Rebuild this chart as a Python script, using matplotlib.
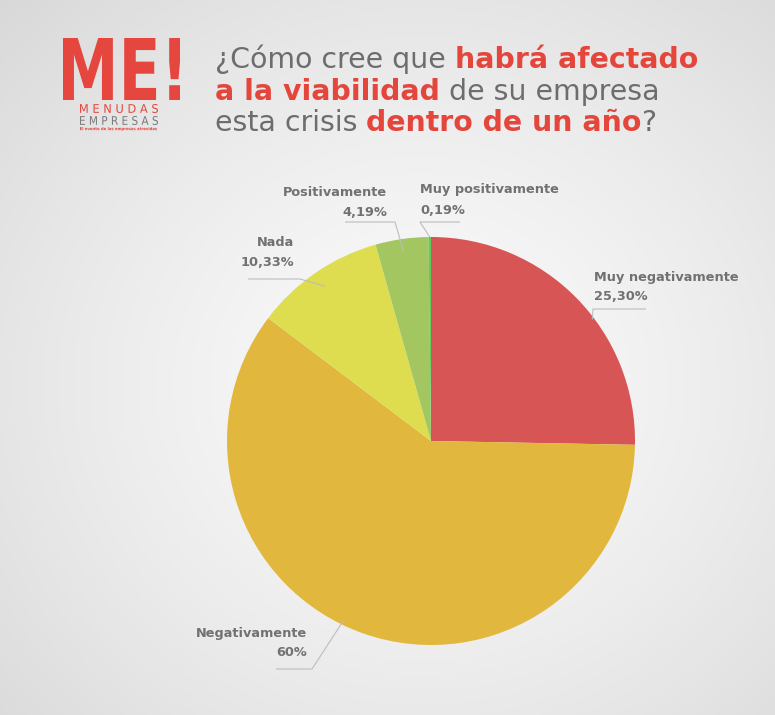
import numpy as np
import matplotlib
matplotlib.use("Agg")
import matplotlib.pyplot as plt
from matplotlib.textpath import TextPath
from matplotlib.patches import PathPatch
from matplotlib.font_manager import FontProperties
from matplotlib.transforms import Affine2D

# ---- data ----
categories = ["Muy negativamente", "Negativamente", "Nada", "Positivamente", "Muy positivamente"]
values = [25.30, 60.0, 10.33, 4.19, 0.19]
value_labels = ["25,30%", "60%", "10,33%", "4,19%", "0,19%"]
colors = ["#D85555", "#E2B73D", "#DEDD4F", "#A3C660", "#5CCB5A"]

title_lines = [
    [("¿Cómo cree que ", "g"), ("habrá afectado", "r")],
    [("a la viabilidad", "r"), (" de su empresa", "g")],
    [("esta crisis ", "g"), ("dentro de un año", "r"), ("?", "g")],
]

W, H = 775, 715
fig = plt.figure(figsize=(W / 100, H / 100), dpi=100)
ax = fig.add_axes([0, 0, 1, 1])
ax.set_xlim(0, W)
ax.set_ylim(0, H)
ax.set_aspect("equal")
ax.axis("off")

# background radial gradient
yy, xx = np.mgrid[0:H, 0:W]
d = np.sqrt(((xx - 420) / 520.0) ** 2 + ((yy - 330) / 480.0) ** 2)
g = np.clip(0.98 - 0.11 * d ** 1.4, 0.84, 0.98)
bg = np.dstack([g, g, g])
ax.imshow(bg, extent=[0, W, 0, H], origin="lower", zorder=0, interpolation="bilinear")

GRAY = "#6D6D6D"
RED = "#E4463C"
LBL = "#717171"

# ---- pie ----
cx, cy, R = 431, H - 441, 204
wedges, _ = ax.pie(values, colors=colors, startangle=90, counterclock=False,
                   center=(cx, cy), radius=R, frame=True,
                   wedgeprops=dict(linewidth=0))
for w in wedges:
    w.set_zorder(2)
ax.set_xlim(0, W)
ax.set_ylim(0, H)
ax.axis("off")

# ---- labels with leader lines ----
layout = {
    "Muy negativamente": (594, 277, "left", 646, 593, 309, 0.99),
    "Negativamente": (307, 633, "right", 276, 312, 669, 0.98),
    "Nada": (294, 242, "right", 248, 300, 279, 0.92),
    "Positivamente": (387, 193, "right", 345, 395, 222, 0.94),
    "Muy positivamente": (420, 190, "left", 460, 420, 222, 1.0),
}
cum = np.cumsum([0] + values)
tot = sum(values)
anchor_ang = {"Muy negativamente": 37, "Negativamente": 244}
for i, cat in enumerate(categories):
    tx, ty, ha, x0, x1, ly, rf = layout[cat]
    mid = 90 - 360 * (cum[i] + values[i] / 2) / tot
    mid = anchor_ang.get(cat, mid)
    ax_ = cx + R * rf * np.cos(np.radians(mid))
    ay_ = cy + R * rf * np.sin(np.radians(mid))
    ax.plot([x0, x1, ax_], [H - ly, H - ly, ay_], color="#BDBDBD", lw=0.8, zorder=3,
            solid_capstyle="butt")
    ax.text(tx, H - ty, cat, ha=ha, va="center", fontsize=9.3, fontweight="bold",
            color=LBL, family="DejaVu Sans", zorder=4)
    ax.text(tx, H - ty - 20, value_labels[i], ha=ha, va="center", fontsize=9.3,
            fontweight="bold", color=LBL, family="DejaVu Sans", zorder=4)

# ---- title with mixed colours ----
fig.canvas.draw()
renderer = fig.canvas.get_renderer()
baselines = [68, 100, 131]
fs = 20.4
inv = ax.transData.inverted()
for line, base in zip(title_lines, baselines):
    x = 215
    for txt, c in line:
        t = ax.text(x, H - base, txt, fontsize=fs, va="baseline", ha="left",
                    color=RED if c == "r" else GRAY,
                    fontweight="bold" if c == "r" else "normal",
                    family="DejaVu Sans", zorder=5)
        bb = t.get_window_extent(renderer)
        p0 = inv.transform((bb.x0, bb.y0))
        p1 = inv.transform((bb.x1, bb.y1))
        x += p1[0] - p0[0]


# ---- logo (stretched text paths) ----
def fit_text(s, x0, y0_img, x1, y1_img, color, weight="normal", family="DejaVu Sans"):
    tp = TextPath((0, 0), s, size=100, prop=FontProperties(family=family, weight=weight))
    ext = tp.get_extents()
    sx = (x1 - x0) / ext.width
    sy = (y1_img - y0_img) / ext.height
    tr = Affine2D().translate(-ext.x0, -ext.y0).scale(sx, sy).translate(x0, H - y1_img)
    patch = PathPatch(tr.transform_path(tp), facecolor=color, edgecolor="none", zorder=5)
    ax.add_patch(patch)


fit_text("ME!", 63, 38, 180, 100, "#E5473E", weight="bold")
fit_text("M E N U D A S", 80, 104, 158, 113, "#E5473E")
fit_text("E M P R E S A S", 80, 116, 158, 125, "#7A7A7A")
fit_text("El evento de las empresas atrevidas", 80, 127, 157, 131, "#E5473E", weight="bold")

fig.savefig("out.png", dpi=100)
